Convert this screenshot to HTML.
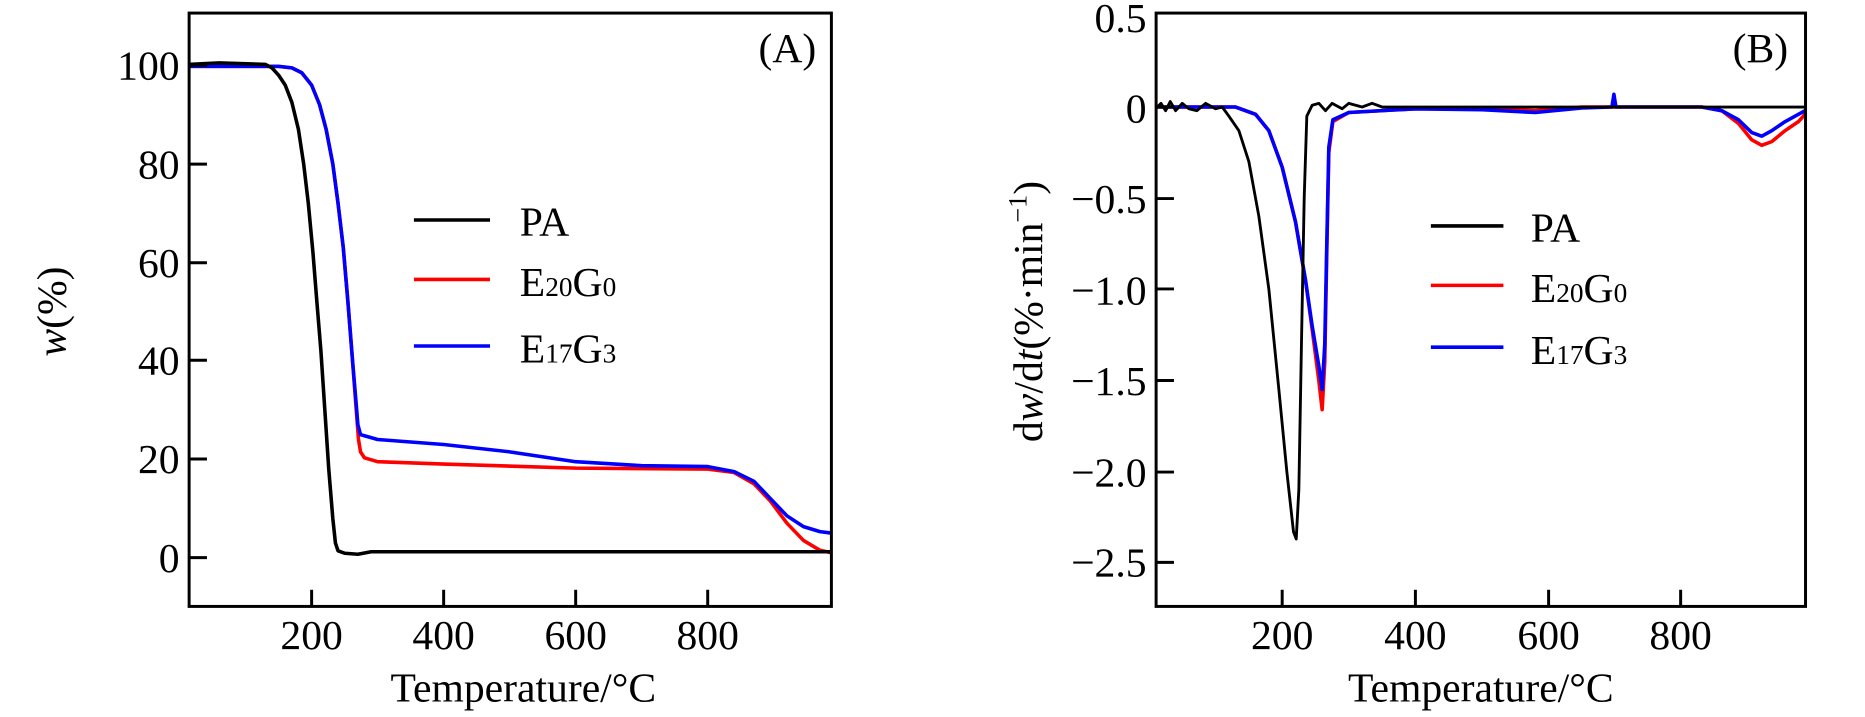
<!DOCTYPE html>
<html><head><meta charset="utf-8">
<style>
html,body{margin:0;padding:0;background:#fff;}
svg{display:block;}
text{font-family:"Liberation Serif",serif;fill:#000;}
</style></head>
<body>
<svg id="s" width="1865" height="717" viewBox="0 0 1568 603" preserveAspectRatio="none" xmlns="http://www.w3.org/2000/svg">
<g id="A"></g><g id="B"></g>
<rect x="159" y="11" width="540" height="499" fill="none" stroke="#000" stroke-width="2.5"/>
<g font-size="35" text-anchor="end">
<text x="151" y="67">100</text><text x="151" y="150">80</text><text x="151" y="233">60</text>
<text x="151" y="315">40</text><text x="151" y="398">20</text><text x="151" y="481">0</text>
</g>
<g font-size="35" text-anchor="middle">
<text x="262" y="546">200</text><text x="373" y="546">400</text><text x="484" y="546">600</text><text x="595" y="546">800</text>
<text x="440" y="590">Temperature/°C</text>
<text x="662" y="52">(A)</text>
</g>
<text font-size="35" text-anchor="middle" transform="translate(55,262) rotate(-90)"><tspan font-style="italic">w</tspan>(%)</text>
<g stroke="#000" stroke-width="2.5">
<line x1="159" y1="55" x2="174" y2="55"/><line x1="159" y1="138" x2="174" y2="138"/><line x1="159" y1="221" x2="174" y2="221"/>
<line x1="159" y1="303" x2="174" y2="303"/><line x1="159" y1="386" x2="174" y2="386"/><line x1="159" y1="469" x2="174" y2="469"/>
<line x1="262" y1="510" x2="262" y2="496"/><line x1="373" y1="510" x2="373" y2="496"/><line x1="484" y1="510" x2="484" y2="496"/><line x1="595" y1="510" x2="595" y2="496"/>
</g>
<g stroke-width="3">
<line x1="348" y1="185" x2="412" y2="185" stroke="#000"/>
<line x1="348" y1="235" x2="412" y2="235" stroke="#f00"/>
<line x1="348" y1="291" x2="412" y2="291" stroke="#00f"/>
</g>
<g font-size="35">
<text x="437" y="198">PA</text>
<text x="437" y="249">E<tspan font-size="23">20</tspan>G<tspan font-size="23">0</tspan></text>
<text x="437" y="305">E<tspan font-size="23">17</tspan>G<tspan font-size="23">3</tspan></text>
</g>

<rect x="972" y="11" width="546" height="499" fill="none" stroke="#000" stroke-width="2.5"/>
<g font-size="35" text-anchor="end">
<text x="964" y="27">0.5</text><text x="964" y="103">0</text><text x="964" y="179">−0.5</text>
<text x="964" y="256">−1.0</text><text x="964" y="332">−1.5</text><text x="964" y="409">−2.0</text><text x="964" y="485">−2.5</text>
</g>
<g font-size="35" text-anchor="middle">
<text x="1078" y="546">200</text><text x="1190" y="546">400</text><text x="1302" y="546">600</text><text x="1413" y="546">800</text>
<text x="1245" y="590">Temperature/°C</text>
<text x="1480" y="52">(B)</text>
</g>
<text font-size="35" text-anchor="middle" transform="translate(876,262) rotate(-90)">d<tspan font-style="italic">w</tspan>/d<tspan font-style="italic">t</tspan>(%·min<tspan font-size="22" dy="-13">−1</tspan><tspan dy="13">)</tspan></text>
<g stroke="#000" stroke-width="2.5">
<line x1="972" y1="90" x2="987" y2="90"/><line x1="972" y1="167" x2="987" y2="167"/><line x1="972" y1="243" x2="987" y2="243"/>
<line x1="972" y1="320" x2="987" y2="320"/><line x1="972" y1="397" x2="987" y2="397"/><line x1="972" y1="473" x2="987" y2="473"/>
<line x1="1078" y1="510" x2="1078" y2="496"/><line x1="1190" y1="510" x2="1190" y2="496"/><line x1="1302" y1="510" x2="1302" y2="496"/><line x1="1413" y1="510" x2="1413" y2="496"/>
</g>
<g stroke-width="3">
<line x1="1203" y1="190" x2="1264" y2="190" stroke="#000"/>
<line x1="1203" y1="240" x2="1264" y2="240" stroke="#f00"/>
<line x1="1203" y1="292" x2="1264" y2="292" stroke="#00f"/>
</g>
<g font-size="35">
<text x="1287" y="203">PA</text>
<text x="1287" y="254">E<tspan font-size="23">20</tspan>G<tspan font-size="23">0</tspan></text>
<text x="1287" y="306">E<tspan font-size="23">17</tspan>G<tspan font-size="23">3</tspan></text>
</g>
</svg>
<script>
function mk(g,pts,fx,fy,col,w){
  var d=pts.map(function(p,i){return (i?'L':'M')+fx(p[0]).toFixed(1)+' '+fy(p[1]).toFixed(1);}).join(' ');
  var e=document.createElementNS('http://www.w3.org/2000/svg','path');
  e.setAttribute('d',d);e.setAttribute('fill','none');e.setAttribute('stroke',col);
  e.setAttribute('stroke-width',w);e.setAttribute('stroke-linejoin','round');
  document.getElementById(g).appendChild(e);
}
var ax=function(t){return 151+0.555*t;}, ay=function(v){return 469-4.14*v;};
var bx=function(t){return 966+0.56*t;}, by=function(v){return 90-153.3*v;};
var redA=[[14,99.8],[150,99.8],[170,99.5],[185,98.5],[200,96],[212,92],[222,87],[232,80],[240,72],[248,63],[255,52],[262,40],[267,31],[271,24],[274,21.5],[280,20.3],[300,19.5],[400,19],[600,18.2],[800,18],[840,17.3],[870,15],[895,11.5],[920,7],[945,3.5],[970,1.5],[987,1]];
var blueA=[[14,99.8],[150,99.8],[170,99.5],[185,98.5],[200,96],[212,92],[222,87],[232,80],[240,72],[248,63],[255,52],[262,40],[267,32],[270,27],[274,25],[300,24],[400,23],[500,21.5],[600,19.5],[700,18.7],[800,18.5],[840,17.5],[870,15.5],[895,12],[920,8.5],[945,6.3],[970,5.3],[987,5]];
var blackA=[[14,100.2],[60,100.5],[130,100.2],[140,99.5],[150,98],[160,96],[170,92.5],[180,87],[188,80],[195,72],[202,62],[208,52],[214,42],[220,30],[226,18],[232,8],[236,3],[240,1.4],[250,0.9],[270,0.7],[290,1.2],[987,1.2]];
mk('A',redA,ax,ay,'#f00',3);mk('A',blueA,ax,ay,'#00f',3);mk('A',blackA,ax,ay,'#000',3);
var redB=[[10,0],[130,0],[160,-0.04],[180,-0.13],[200,-0.33],[220,-0.63],[235,-0.95],[245,-1.22],[255,-1.5],[260,-1.66],[264,-1.4],[267,-0.8],[270,-0.25],[276,-0.08],[300,-0.03],[400,-0.01],[500,-0.01],[580,-0.02],[650,0],[830,0],[860,-0.02],[885,-0.09],[905,-0.18],[920,-0.21],[935,-0.19],[955,-0.13],[975,-0.08],[985,-0.04]];
var blueB=[[10,0],[130,0],[160,-0.04],[180,-0.13],[200,-0.33],[220,-0.63],[235,-0.95],[245,-1.2],[255,-1.42],[260,-1.55],[264,-1.3],[267,-0.75],[270,-0.22],[276,-0.07],[300,-0.03],[400,-0.01],[500,-0.015],[580,-0.03],[650,-0.005],[695,0],[698,0.07],[701,0],[830,0],[860,-0.02],[885,-0.07],[905,-0.14],[920,-0.16],[935,-0.13],[955,-0.08],[975,-0.04],[985,-0.02]];
var blackB=[[10,-0.01],[18,0.02],[25,-0.02],[32,0.03],[40,-0.02],[50,0.02],[60,-0.01],[72,-0.02],[85,0.02],[100,-0.01],[110,0],[120,-0.05],[135,-0.13],[150,-0.3],[165,-0.6],[180,-1.0],[195,-1.55],[207,-2.0],[217,-2.33],[221,-2.37],[225,-2.1],[229,-1.3],[233,-0.5],[237,-0.05],[245,0.01],[255,0.02],[265,-0.02],[275,0.02],[290,-0.01],[300,0.02],[320,0],[335,0.02],[350,0],[985,0]];
mk('B',redB,bx,by,'#f00',3);mk('B',blueB,bx,by,'#00f',3);mk('B',blackB,bx,by,'#000',2.4);
</script>
</body></html>
